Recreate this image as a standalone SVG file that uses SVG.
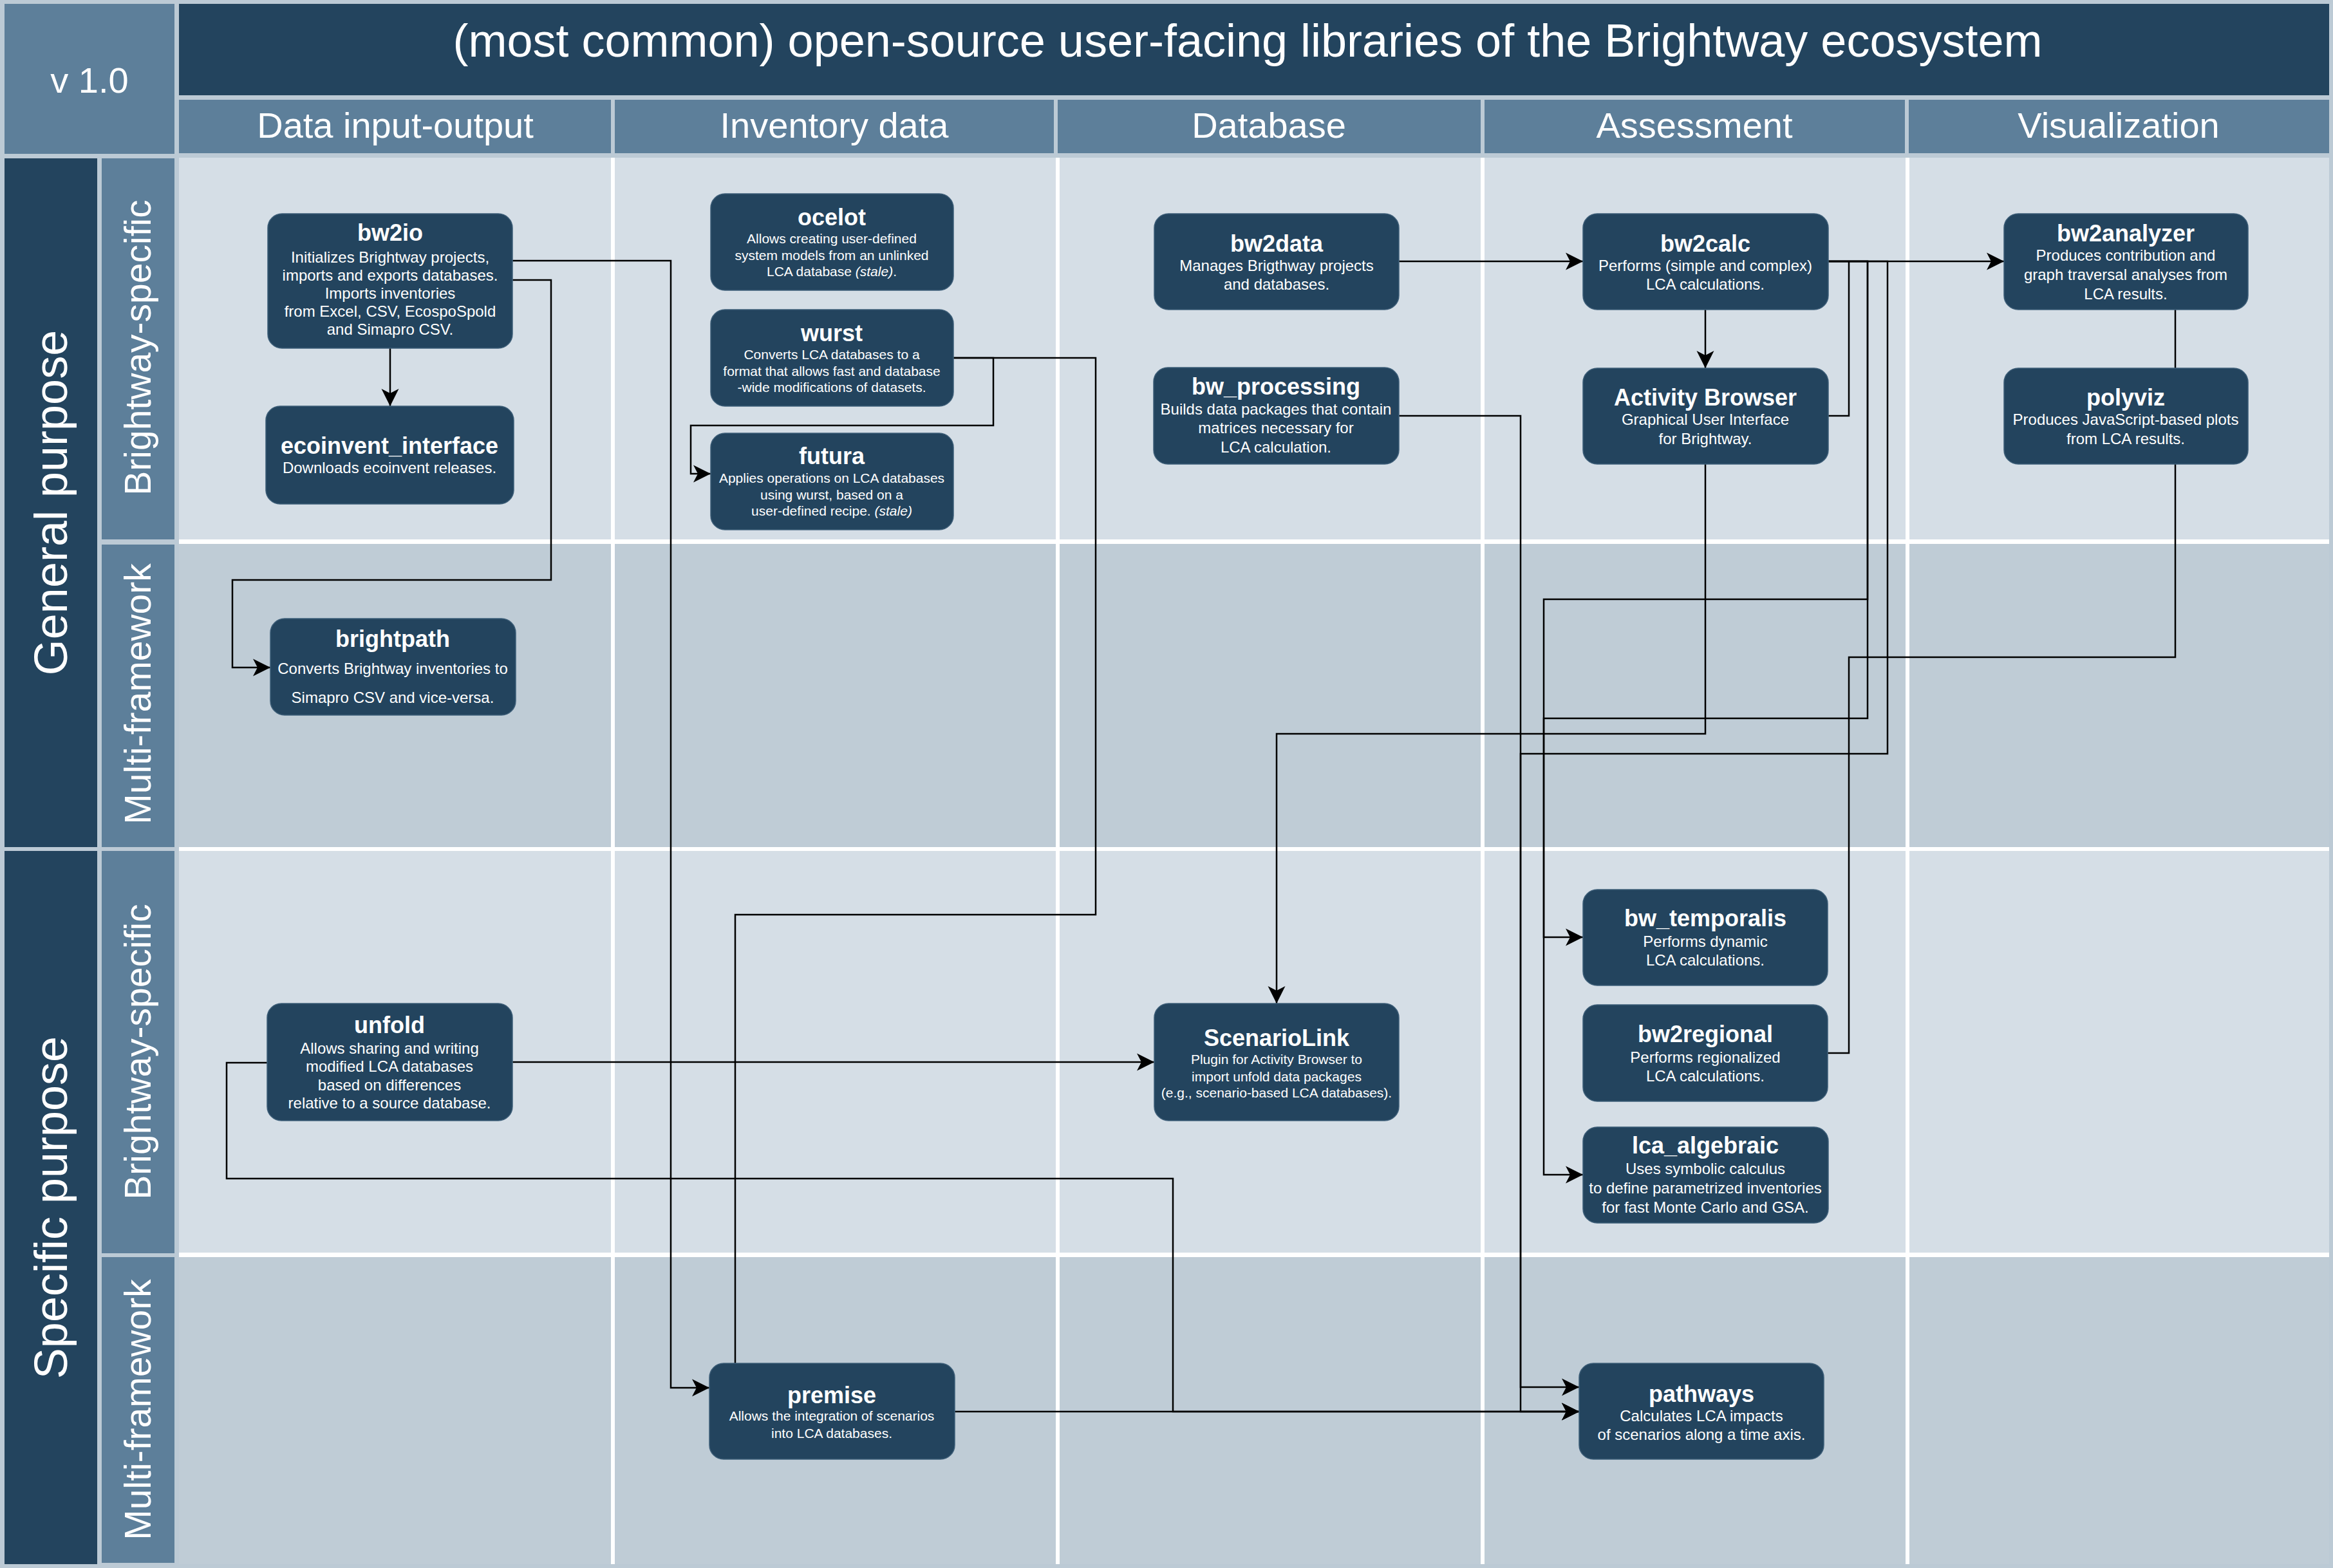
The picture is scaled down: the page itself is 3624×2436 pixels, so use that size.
<svg xmlns="http://www.w3.org/2000/svg" width="3624" height="2436" viewBox="0 0 3624 2436">
<defs>
<style>
.hdr-dark{fill:#23445e}
.hdr-mid{fill:#5d7f9a}
.cell-l{fill:#d5dee6}
.cell-d{fill:#bfccd6}
.node rect{fill:#23445e;stroke:#3d5e78;stroke-width:1.5}
text{font-family:"Liberation Sans",Arial,Helvetica,sans-serif;fill:#ffffff}
.t{font-size:36px;font-weight:bold;text-anchor:middle}
.d{font-size:24px;text-anchor:middle}
.s{font-size:21px;text-anchor:middle}
.it{font-style:italic}
.col{font-size:56px;text-anchor:middle}
.row{font-size:72px;text-anchor:middle}
.sub{font-size:57px;text-anchor:middle}
.conn path{fill:none;stroke:#000000;stroke-width:2.5}
</style>
<marker id="arr" markerUnits="userSpaceOnUse" markerWidth="30" markerHeight="30" viewBox="0 0 30 30" refX="27" refY="15" orient="auto">
<path d="M0,1.5 L27,15 L0,28.5 L7,15 Z" fill="#000000"/>
</marker>
</defs>

<rect x="0" y="0" width="3624" height="2436" fill="#bccad5"/>

<g id="header">
<rect class="hdr-mid" x="7" y="6" width="264" height="233"/>
<text x="139" y="144" style="font-size:56px;text-anchor:middle">v 1.0</text>
<rect class="hdr-dark" x="278" y="6" width="3340" height="142"/>
<text x="1938" y="88" style="font-size:72px;text-anchor:middle">(most common) open-source user-facing libraries of the Brightway ecosystem</text>
<rect class="hdr-mid" x="278" y="155" width="671" height="83"/>
<rect class="hdr-mid" x="955" y="155" width="682" height="83"/>
<rect class="hdr-mid" x="1643" y="155" width="657" height="83"/>
<rect class="hdr-mid" x="2306" y="155" width="653" height="83"/>
<rect class="hdr-mid" x="2965" y="155" width="653" height="83"/>
<text class="col" x="614" y="214">Data input-output</text>
<text class="col" x="1296" y="214">Inventory data</text>
<text class="col" x="1971" y="214">Database</text>
<text class="col" x="2632" y="214">Assessment</text>
<text class="col" x="3291" y="214">Visualization</text>
</g>

<g id="row-headers">
<rect class="hdr-dark" x="7" y="246" width="144" height="1070"/>
<rect class="hdr-dark" x="7" y="1322" width="144" height="1108"/>
<text class="row" transform="translate(104,781) rotate(-90)">General purpose</text>
<text class="row" transform="translate(104,1876) rotate(-90)">Specific purpose</text>
<rect class="hdr-mid" x="158" y="246" width="113" height="592"/>
<rect class="hdr-mid" x="158" y="846" width="113" height="470"/>
<rect class="hdr-mid" x="158" y="1322" width="113" height="625"/>
<rect class="hdr-mid" x="158" y="1953" width="113" height="475"/>
<text class="sub" transform="translate(234,540) rotate(-90)">Brightway-specific</text>
<text class="sub" transform="translate(234,1078) rotate(-90)">Multi-framework</text>
<text class="sub" transform="translate(234,1634) rotate(-90)">Brightway-specific</text>
<text class="sub" transform="translate(234,2190) rotate(-90)">Multi-framework</text>
</g>

<g id="grid">
<rect x="278" y="245" width="3340" height="2185" fill="#ffffff"/>
<rect class="cell-l" x="278" y="245" width="671" height="593"/>
<rect class="cell-l" x="955" y="245" width="685" height="593"/>
<rect class="cell-l" x="1646" y="245" width="654" height="593"/>
<rect class="cell-l" x="2306" y="245" width="654" height="593"/>
<rect class="cell-l" x="2966" y="245" width="652" height="593"/>
<rect class="cell-d" x="278" y="845" width="671" height="471"/>
<rect class="cell-d" x="955" y="845" width="685" height="471"/>
<rect class="cell-d" x="1646" y="845" width="654" height="471"/>
<rect class="cell-d" x="2306" y="845" width="654" height="471"/>
<rect class="cell-d" x="2966" y="845" width="652" height="471"/>
<rect class="cell-l" x="278" y="1322" width="671" height="624"/>
<rect class="cell-l" x="955" y="1322" width="685" height="624"/>
<rect class="cell-l" x="1646" y="1322" width="654" height="624"/>
<rect class="cell-l" x="2306" y="1322" width="654" height="624"/>
<rect class="cell-l" x="2966" y="1322" width="652" height="624"/>
<rect class="cell-d" x="278" y="1953" width="671" height="477"/>
<rect class="cell-d" x="955" y="1953" width="685" height="477"/>
<rect class="cell-d" x="1646" y="1953" width="654" height="477"/>
<rect class="cell-d" x="2306" y="1953" width="654" height="477"/>
<rect class="cell-d" x="2966" y="1953" width="652" height="477"/>
</g>

<g id="connectors" class="conn">
<path d="M606,541 V631" marker-end="url(#arr)"/>
<path d="M796,405 H1042 V2156 H1102" marker-end="url(#arr)"/>
<path d="M796,435 H856 V901 H361 V1037 H420" marker-end="url(#arr)"/>
<path d="M1481,556 H1543 V661 H1073 V736 H1104" marker-end="url(#arr)"/>
<path d="M1481,556 H1702 V1421 H1142 V2118"/>
<path d="M2173,406 H2459" marker-end="url(#arr)"/>
<path d="M2649,481 V572" marker-end="url(#arr)"/>
<path d="M2840,406 H3113" marker-end="url(#arr)"/>
<path d="M2840,646 H2872 V406"/>
<path d="M2840,406 H2901 V931 H2398 V1456 H2459" marker-end="url(#arr)"/>
<path d="M2840,406 H2901 V1116 H2398 V1825 H2459" marker-end="url(#arr)"/>
<path d="M2840,406 H2932 V1171 H2362 V2155 H2453" marker-end="url(#arr)"/>
<path d="M2173,646 H2362 V2193 H2453" marker-end="url(#arr)"/>
<path d="M2649,721 V1140 H1983 V1559" marker-end="url(#arr)"/>
<path d="M3379,481 V572"/>
<path d="M3379,721 V1021 H2872 V1636 H2839"/>
<path d="M796,1650 H1793" marker-end="url(#arr)"/>
<path d="M415,1651 H352 V1831 H1822 V2193 H2453" marker-end="url(#arr)"/>
<path d="M1483,2193 H2453" marker-end="url(#arr)"/>
</g>

<g id="bw2io" class="node">
<rect x="416" y="332" width="380" height="209" rx="22"/>
<text class="t" x="606" y="374">bw2io</text>
<text class="d" x="606" y="408">Initializes Brightway projects,</text>
<text class="d" x="606" y="436">imports and exports databases.</text>
<text class="d" x="606" y="464">Imports inventories</text>
<text class="d" x="606" y="492">from Excel, CSV, EcospoSpold</text>
<text class="d" x="606" y="520">and Simapro CSV.</text>
</g>
<g id="ecoinvent_interface" class="node">
<rect x="413" y="631" width="385" height="152" rx="22"/>
<text class="t" x="605" y="705">ecoinvent_interface</text>
<text class="d" x="605" y="735">Downloads ecoinvent releases.</text>
</g>
<g id="ocelot" class="node">
<rect x="1104" y="301" width="377" height="150" rx="22"/>
<text class="t" x="1292" y="350">ocelot</text>
<text class="s" x="1292" y="378">Allows creating user-defined</text>
<text class="s" x="1292" y="404">system models from an unlinked</text>
<text class="s" x="1292" y="429">LCA database <tspan class="it">(stale)</tspan>.</text>
</g>
<g id="wurst" class="node">
<rect x="1104" y="481" width="377" height="150" rx="22"/>
<text class="t" x="1292" y="530">wurst</text>
<text class="s" x="1292" y="558">Converts LCA databases to a</text>
<text class="s" x="1292" y="584">format that allows fast and database</text>
<text class="s" x="1292" y="609">-wide modifications of datasets.</text>
</g>
<g id="futura" class="node">
<rect x="1104" y="673" width="377" height="150" rx="22"/>
<text class="t" x="1292" y="721">futura</text>
<text class="s" x="1292" y="750">Applies operations on LCA databases</text>
<text class="s" x="1292" y="776">using wurst, based on a</text>
<text class="s" x="1292" y="801">user-defined recipe. <tspan class="it">(stale)</tspan></text>
</g>
<g id="bw2data" class="node">
<rect x="1793" y="332" width="380" height="149" rx="22"/>
<text class="t" x="1983" y="391">bw2data</text>
<text class="d" x="1983" y="421">Manages Brigthway projects</text>
<text class="d" x="1983" y="450">and databases.</text>
</g>
<g id="bw_processing" class="node">
<rect x="1792" y="571" width="381" height="150" rx="22"/>
<text class="t" x="1982" y="613">bw_processing</text>
<text class="d" x="1982" y="644">Builds data packages that contain</text>
<text class="d" x="1982" y="673">matrices necessary for</text>
<text class="d" x="1982" y="703">LCA calculation.</text>
</g>
<g id="bw2calc" class="node">
<rect x="2459" y="332" width="381" height="149" rx="22"/>
<text class="t" x="2649" y="391">bw2calc</text>
<text class="d" x="2649" y="421">Performs (simple and complex)</text>
<text class="d" x="2649" y="450">LCA calculations.</text>
</g>
<g id="activity_browser" class="node">
<rect x="2459" y="572" width="381" height="149" rx="22"/>
<text class="t" x="2649" y="630">Activity Browser</text>
<text class="d" x="2649" y="660">Graphical User Interface</text>
<text class="d" x="2649" y="690">for Brightway.</text>
</g>
<g id="bw2analyzer" class="node">
<rect x="3113" y="332" width="379" height="149" rx="22"/>
<text class="t" x="3302" y="375">bw2analyzer</text>
<text class="d" x="3302" y="405">Produces contribution and</text>
<text class="d" x="3302" y="435">graph traversal analyses from</text>
<text class="d" x="3302" y="465">LCA results.</text>
</g>
<g id="polyviz" class="node">
<rect x="3113" y="572" width="379" height="149" rx="22"/>
<text class="t" x="3302" y="630">polyviz</text>
<text class="d" x="3302" y="660">Produces JavaScript-based plots</text>
<text class="d" x="3302" y="690">from LCA results.</text>
</g>
<g id="brightpath" class="node">
<rect x="420" y="961" width="381" height="150" rx="22"/>
<text class="t" x="610" y="1005">brightpath</text>
<text class="d" x="610" y="1047">Converts Brightway inventories to</text>
<text class="d" x="610" y="1092">Simapro CSV and vice-versa.</text>
</g>
<g id="unfold" class="node">
<rect x="415" y="1559" width="381" height="182" rx="22"/>
<text class="t" x="605" y="1605">unfold</text>
<text class="d" x="605" y="1637">Allows sharing and writing</text>
<text class="d" x="605" y="1665">modified LCA databases</text>
<text class="d" x="605" y="1694">based on differences</text>
<text class="d" x="605" y="1722">relative to a source database.</text>
</g>
<g id="scenariolink" class="node">
<rect x="1793" y="1559" width="380" height="182" rx="22"/>
<text class="t" x="1983" y="1625">ScenarioLink</text>
<text class="s" x="1983" y="1653">Plugin for Activity Browser to</text>
<text class="s" x="1983" y="1680">import unfold data packages</text>
<text class="s" x="1983" y="1705">(e.g., scenario-based LCA databases).</text>
</g>
<g id="bw_temporalis" class="node">
<rect x="2459" y="1382" width="380" height="149" rx="22"/>
<text class="t" x="2649" y="1439">bw_temporalis</text>
<text class="d" x="2649" y="1471">Performs dynamic</text>
<text class="d" x="2649" y="1500">LCA calculations.</text>
</g>
<g id="bw2regional" class="node">
<rect x="2459" y="1561" width="380" height="150" rx="22"/>
<text class="t" x="2649" y="1619">bw2regional</text>
<text class="d" x="2649" y="1651">Performs regionalized</text>
<text class="d" x="2649" y="1680">LCA calculations.</text>
</g>
<g id="lca_algebraic" class="node">
<rect x="2459" y="1751" width="381" height="149" rx="22"/>
<text class="t" x="2649" y="1792">lca_algebraic</text>
<text class="d" x="2649" y="1824">Uses symbolic calculus</text>
<text class="d" x="2649" y="1854">to define parametrized inventories</text>
<text class="d" x="2649" y="1884">for fast Monte Carlo and GSA.</text>
</g>
<g id="premise" class="node">
<rect x="1102" y="2118" width="381" height="149" rx="22"/>
<text class="t" x="1292" y="2180">premise</text>
<text class="s" x="1292" y="2207">Allows the integration of scenarios</text>
<text class="s" x="1292" y="2234">into LCA databases.</text>
</g>
<g id="pathways" class="node">
<rect x="2453" y="2118" width="380" height="149" rx="22"/>
<text class="t" x="2643" y="2178">pathways</text>
<text class="d" x="2643" y="2208">Calculates LCA impacts</text>
<text class="d" x="2643" y="2237">of scenarios along a time axis.</text>
</g>
</svg>
